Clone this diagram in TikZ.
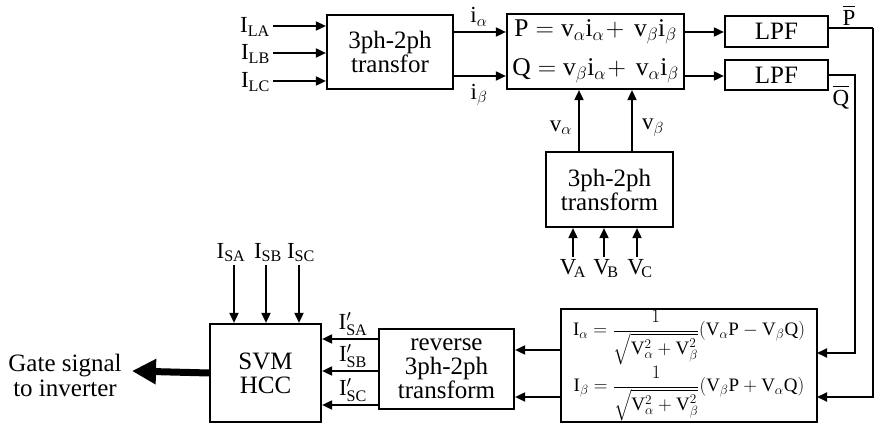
\RequirePackage{fix-cm}
\documentclass[tikz,border=0pt]{standalone}
\usepackage{amsmath}
\usepackage{fontspec}
\setmainfont{Liberation Serif}
\usetikzlibrary{arrows.meta}
\begin{document}
\begin{tikzpicture}[x=1pt,y=-1pt,
  blk/.style={draw, line width=2.2pt, inner sep=0pt, align=center, font=\fontsize{25}{24}\selectfont},
  arr/.style={line width=1.8pt, -{Triangle[length=10pt,width=9pt]}},
  wire/.style={line width=1.8pt},
  lbl/.style={inner sep=1pt, font=\fontsize{23}{24}\selectfont},
  eq/.style={inner sep=0pt, font=\fontsize{19}{20}\selectfont},
  txt/.style={font=\fontsize{25}{25}\selectfont}]
\useasboundingbox (0,0) rectangle (876,427);

% blocks
\node[blk, minimum width=126pt, minimum height=74pt] (b1) at (390,52) {3ph-2ph\\transfor};
\node[blk, minimum width=177pt, minimum height=75pt, font=\fontsize{25.5}{39}\selectfont] (pq) at (595.5,51.5)
  {$\mathrm{P}=\mathrm{v}_\alpha\mathrm{i}_\alpha\!+\,\mathrm{v}_\beta\mathrm{i}_\beta$\\
   $\mathrm{Q}=\mathrm{v}_\beta\mathrm{i}_\alpha\!+\,\mathrm{v}_\alpha\mathrm{i}_\beta$};
\node[blk, minimum width=103pt, minimum height=31pt] (lpf1) at (776.5,31.5) {LPF};
\node[blk, minimum width=103pt, minimum height=30pt] (lpf2) at (776.5,75) {LPF};
\node[blk, minimum width=127pt, minimum height=75pt] (mid) at (609.5,189.5) {3ph-2ph\\transform};
\node[blk, minimum width=256pt, minimum height=113pt] (fm) at (689,365.5) {};
\node[eq] (eqa) at (689,338)
  {$\mathrm{I}_\alpha=\dfrac{1}{\sqrt{\mathrm{V}_\alpha^2+\mathrm{V}_\beta^2}}(\mathrm{V}_\alpha\mathrm{P}-\mathrm{V}_\beta\mathrm{Q})$};
\node[eq] (eqb) at (689,394)
  {$\mathrm{I}_\beta=\dfrac{1}{\sqrt{\mathrm{V}_\alpha^2+\mathrm{V}_\beta^2}}(\mathrm{V}_\beta\mathrm{P}+\mathrm{V}_\alpha\mathrm{Q})$};
\node[blk, minimum width=135pt, minimum height=80pt] (rev) at (446.5,369) {reverse\\3ph-2ph\\transform};
\node[blk, minimum width=111pt, minimum height=98pt] (svm) at (265.5,373) {SVM\\HCC};

% load currents into block 1
\coordinate (la) at (273,26);
\coordinate (lb) at (273,53);
\coordinate (lc) at (273,81);
\node[lbl, anchor=east] (tla) at (271,27) {$\mathrm{I}_{\mathrm{LA}}$};
\node[lbl, anchor=east] (tlb) at (271,54) {$\mathrm{I}_{\mathrm{LB}}$};
\node[lbl, anchor=east] (tlc) at (271,82) {$\mathrm{I}_{\mathrm{LC}}$};
\draw[arr] (la) -- (la -| b1.west);
\draw[arr] (lb) -- (lb -| b1.west);
\draw[arr] (lc) -- (lc -| b1.west);

% block 1 to PQ
\coordinate (ia) at (453,32);
\coordinate (ib) at (453,76);
\draw[arr] (ia) -- (ia -| pq.west);
\draw[arr] (ib) -- (ib -| pq.west);
\node[lbl] (tia) at (479,17) {$\mathrm{i}_\alpha$};
\node[lbl] (tib) at (479,95) {$\mathrm{i}_\beta$};

% PQ to LPF
\coordinate (pp) at (684,32);
\coordinate (qq) at (684,76);
\draw[arr] (pp) -- (pp -| lpf1.west);
\draw[arr] (qq) -- (qq -| lpf2.west);

% mid transform to PQ
\coordinate (va) at (579,152);
\coordinate (vb) at (632,152);
\draw[arr] (va) -- (va |- pq.south);
\draw[arr] (vb) -- (vb |- pq.south);
\node[lbl] (tva) at (561,128) {$\mathrm{v}_\alpha$};
\node[lbl] (tvb) at (653,128) {$\mathrm{v}_\beta$};

% voltages into mid
\coordinate (vA) at (573,257);
\coordinate (vB) at (604,257);
\coordinate (vC) at (637,257);
\draw[arr] (vA) -- (vA |- mid.south);
\draw[arr] (vB) -- (vB |- mid.south);
\draw[arr] (vC) -- (vC |- mid.south);
\node[lbl, anchor=north, inner sep=0pt] (tvA) at (573,259) {$\mathrm{V}_{\!\mathrm{A}}$};
\node[lbl, anchor=north, inner sep=0pt] (tvB) at (606,259) {$\mathrm{V}_{\!\mathrm{B}}$};
\node[lbl, anchor=north, inner sep=0pt] (tvC) at (640,259) {$\mathrm{V}_{\!\mathrm{C}}$};

% feedback from LPFs
\coordinate (fq) at (817,353);
\coordinate (fp) at (817,397);
\draw[wire] (lpf1.east |- 0,28) -- (873,28) coordinate (c1);
\draw[arr] (c1) -- (873,397) -- (fp);
\draw[arr] (lpf2.east) -- (855,75) -- (855,353) -- (fq);
\node[lbl] (tP) at (849,15) {$\overline{\mathrm{P}}$};
\node[lbl] (tQ) at (841,97) {$\overline{\mathrm{Q}}$};

% formula to reverse
\coordinate (ra) at (561,350);
\coordinate (rb) at (561,397);
\draw[arr] (ra) -- (ra -| rev.east);
\draw[arr] (rb) -- (rb -| rev.east);

% reverse to SVM
\coordinate (sa) at (379,339);
\coordinate (sb) at (379,371);
\coordinate (sc) at (379,405);
\draw[arr] (sa) -- (sa -| svm.east);
\draw[arr] (sb) -- (sb -| svm.east);
\draw[arr] (sc) -- (sc -| svm.east);
\node[lbl, anchor=south] (tsa) at (353,337) {$\mathrm{I}'_{\mathrm{SA}}$};
\node[lbl, anchor=south] (tsb) at (353,369) {$\mathrm{I}'_{\mathrm{SB}}$};
\node[lbl, anchor=south] (tsc) at (353,403) {$\mathrm{I}'_{\mathrm{SC}}$};

% sensed currents into SVM
\coordinate (iA) at (234,265);
\coordinate (iB) at (266,265);
\coordinate (iC) at (299,265);
\draw[arr] (iA) -- (iA |- svm.north);
\draw[arr] (iB) -- (iB |- svm.north);
\draw[arr] (iC) -- (iC |- svm.north);
\node[lbl, anchor=south] (tiA) at (231,263) {$\mathrm{I}_{\mathrm{SA}}$};
\node[lbl, anchor=south] (tiB) at (268,263) {$\mathrm{I}_{\mathrm{SB}}$};
\node[lbl, anchor=south] (tiC) at (301,263) {$\mathrm{I}_{\mathrm{SC}}$};

% gate signal
\coordinate (g) at (132,371);
\draw[line width=7pt, -{Triangle[length=24pt,width=24pt]}] (svm.west) -- (g);
\node[txt, align=center] (gt) at (65,375) {Gate signal\\to inverter};
\end{tikzpicture}
\end{document}
